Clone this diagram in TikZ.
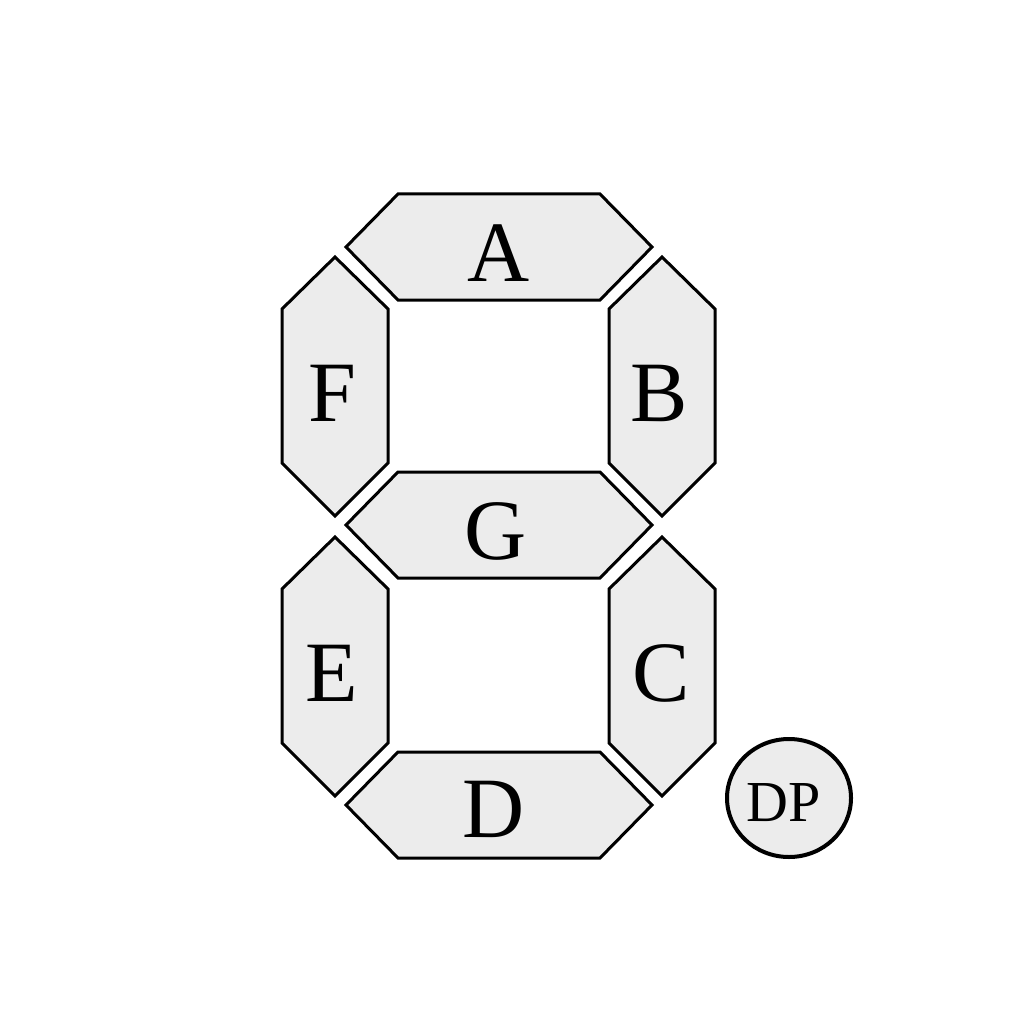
\documentclass[tikz,border=0pt]{standalone}
\usepackage{fontspec}
\setmainfont{Liberation Serif}
\definecolor{segfill}{HTML}{ECECEC}
\begin{document}
\begin{tikzpicture}[x=1pt,y=-1pt,
  seg/.style={draw=black,fill=segfill,line width=3pt,line join=miter},
  lbl/.style={anchor=base,inner sep=0pt,font=\fontsize{86}{86}\selectfont},
  dplbl/.style={anchor=base,inner sep=0pt,font=\fontsize{58}{58}\selectfont}]
\useasboundingbox (0,0) rectangle (1024,1024);
% horizontal segments
\foreach \y in {247,525,805}{
  \draw[seg] (346,\y) -- (398,\y-53) -- (600,\y-53) -- (652,\y) -- (600,\y+53) -- (398,\y+53) -- cycle;
}
% vertical segments
\foreach \x in {335,662}{
  \foreach \y in {386,666}{
    \draw[seg] (\x,\y-129) -- (\x+53,\y-77) -- (\x+53,\y+77) -- (\x,\y+130) -- (\x-53,\y+77) -- (\x-53,\y-77) -- cycle;
  }
}
\draw[draw=black,fill=segfill,line width=4pt] (789,798) ellipse [x radius=62, y radius=59];
\node[lbl] (A) at (499,281) {A};
\node[lbl] (F) at (332,421) {F};
\node[lbl] (B) at (659,421) {B};
\node[lbl] (G) at (496,559) {G};
\node[lbl] (E) at (332,701) {E};
\node[lbl] (C) at (661,701) {C};
\node[lbl] (D) at (494,837) {D};
\node[dplbl] (DP) at (784,821) {DP};
\end{tikzpicture}
\end{document}
